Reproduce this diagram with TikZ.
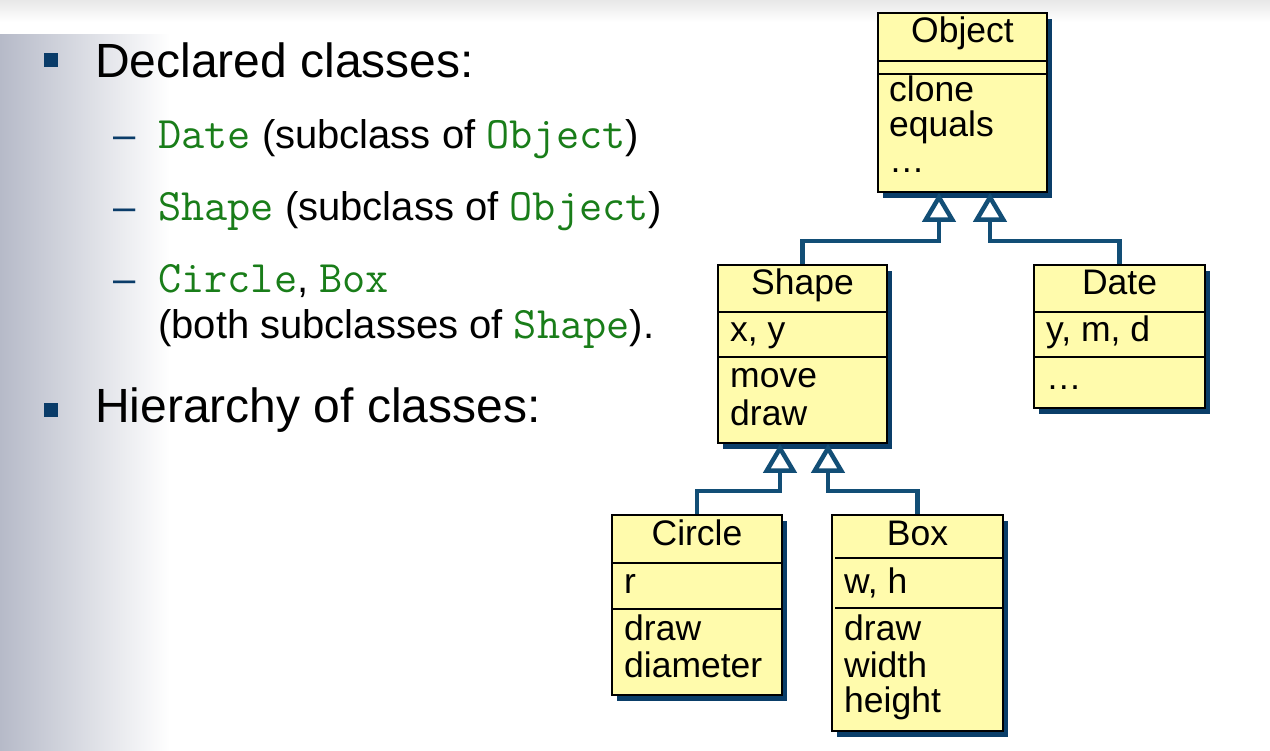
\documentclass[tikz,border=0pt]{standalone}
\usepackage{fontspec}
\setmainfont{Liberation Sans}
\usetikzlibrary{arrows.meta,shadows}

\definecolor{panel}{RGB}{182,186,200}
\definecolor{aufzaehlung}{RGB}{10,60,105}
\definecolor{code}{RGB}{25,125,25}
\definecolor{klassengelb}{RGB}{255,251,172}
\definecolor{schatten}{RGB}{10,62,105}
\definecolor{linie}{RGB}{18,78,118}

\newcommand{\grossschrift}{\fontsize{48}{58}\selectfont}
\newcommand{\mittelschrift}{\fontsize{40}{48}\selectfont}
\newcommand{\umlschrift}{\fontsize{35.5}{42}\selectfont}
\newcommand{\code}[1]{{\ttfamily\fontsize{45}{48}\selectfont\color{code}#1}}

\tikzset{
	klasse/.style={draw=black, line width=1.6pt, fill=klassengelb, inner sep=0pt,
		drop shadow={shadow xshift=5pt, shadow yshift=-6pt, fill=schatten, opacity=1}},
	trenner/.style={line width=1.5pt},
	vererbung/.style={draw=linie, line width=4.5pt,
		-{Triangle[open, length=29pt, width=33pt]}},
	titel/.style={anchor=base, inner sep=0pt, font=\umlschrift},
	eintrag/.style={anchor=base west, inner sep=0pt, font=\umlschrift},
	punkt/.style={fill=aufzaehlung, minimum size=14pt, inner sep=0pt},
	strich/.style={anchor=base west, inner sep=0pt, font=\mittelschrift, text=aufzaehlung},
	zeile/.style={anchor=base west, inner sep=0pt}
}

\begin{document}
\begin{tikzpicture}[x=1pt, y=-1pt]
	\useasboundingbox (0,0) rectangle (1270,751);
	% Hintergrund
	\shade[top color=black!9, bottom color=white] (0,0) rectangle (1270,22);
	\shade[left color=panel, right color=white] (0,35) rectangle (170,751);

	% Aufzaehlung links
	\node[punkt] (p1) at (51,60) {};
	\node[zeile, font=\grossschrift] (declared) at (95,78) {Declared classes:};
	\node[strich] (s1) at (113,149) {–};
	\node[zeile, font=\mittelschrift] (l1) at (158,149) {\code{Date} (subclass of \code{Object})};
	\node[strich] (s2) at (113,221) {–};
	\node[zeile, font=\mittelschrift] (l2) at (158,221) {\code{Shape} (subclass of \code{Object})};
	\node[strich] (s3) at (113,293) {–};
	\node[zeile, font=\mittelschrift] (l3) at (158,293) {\code{Circle}, \code{Box}};
	\node[zeile, font=\mittelschrift] (l4) at (158,339) {(both subclasses of \code{Shape}).};
	\node[punkt] (p2) at (51,410) {};
	\node[zeile, font=\grossschrift] (hierarchy) at (95,423) {Hierarchy of classes:};

	% Klasse Object
	\node[klasse, minimum width=169pt, minimum height=179pt] (object) at (962.5,102.5) {};
	\draw[trenner] (object.west |- 0,61) -- (object.east |- 0,61);
	\draw[trenner] (object.west |- 0,74) -- (object.east |- 0,74);
	\node[titel] (objectname) at (962.5,43) {Object};
	\node[eintrag] (objectm1) at (889,102) {clone};
	\node[eintrag] (objectm2) at (889,137) {equals};
	\node[eintrag] (objectm3) at (889,173) {…};

	% Klasse Shape
	\node[klasse, minimum width=169pt, minimum height=178pt] (shape) at (802.5,354) {};
	\draw[trenner] (shape.west |- 0,312) -- (shape.east |- 0,312);
	\draw[trenner] (shape.west |- 0,357) -- (shape.east |- 0,357);
	\node[titel] (shapename) at (802.5,295) {Shape};
	\node[eintrag] (shapea1) at (730,342) {x, y};
	\node[eintrag] (shapem1) at (730,388) {move};
	\node[eintrag] (shapem2) at (730,425) {draw};

	% Klasse Date
	\node[klasse, minimum width=171pt, minimum height=143pt] (date) at (1119.5,336.5) {};
	\draw[trenner] (date.west |- 0,312) -- (date.east |- 0,312);
	\draw[trenner] (date.west |- 0,357) -- (date.east |- 0,357);
	\node[titel] (datename) at (1119.5,295) {Date};
	\node[eintrag] (datea1) at (1046,342) {y, m, d};
	\node[eintrag] (datem1) at (1046,390) {…};

	% Klasse Circle
	\node[klasse, minimum width=170pt, minimum height=180pt] (circle) at (697,605) {};
	\draw[trenner] (circle.west |- 0,563) -- (circle.east |- 0,563);
	\draw[trenner] (circle.west |- 0,609) -- (circle.east |- 0,609);
	\node[titel] (circlename) at (697,545) {Circle};
	\node[eintrag] (circlea1) at (624,593) {r};
	\node[eintrag] (circlem1) at (624,640) {draw};
	\node[eintrag] (circlem2) at (624,677) {diameter};

	% Klasse Box
	\node[klasse, minimum width=171pt, minimum height=216pt] (box) at (917.5,623) {};
	\draw[trenner] ([xshift=4pt]box.west |- 0,558) -- (box.east |- 0,558);
	\draw[trenner] ([xshift=4pt]box.west |- 0,608) -- (box.east |- 0,608);
	\node[titel] (boxname) at (917.5,545) {Box};
	\node[eintrag] (boxa1) at (844,593) {w, h};
	\node[eintrag] (boxm1) at (844,640) {draw};
	\node[eintrag] (boxm2) at (844,677) {width};
	\node[eintrag] (boxm3) at (844,712) {height};

	% Vererbung
	\draw[vererbung] (shape.north) |- ([xshift=-23.5pt, yshift=-48pt]object.south)
		-- ([xshift=-23.5pt]object.south);
	\draw[vererbung] (date.north) |- ([xshift=27.5pt, yshift=-48pt]object.south)
		-- ([xshift=27.5pt]object.south);
	\draw[vererbung] (circle.north) |- ([xshift=-22.5pt, yshift=-47pt]shape.south)
		-- ([xshift=-22.5pt]shape.south);
	\draw[vererbung] (box.north) |- ([xshift=25.5pt, yshift=-47pt]shape.south)
		-- ([xshift=25.5pt]shape.south);
\end{tikzpicture}
\end{document}
